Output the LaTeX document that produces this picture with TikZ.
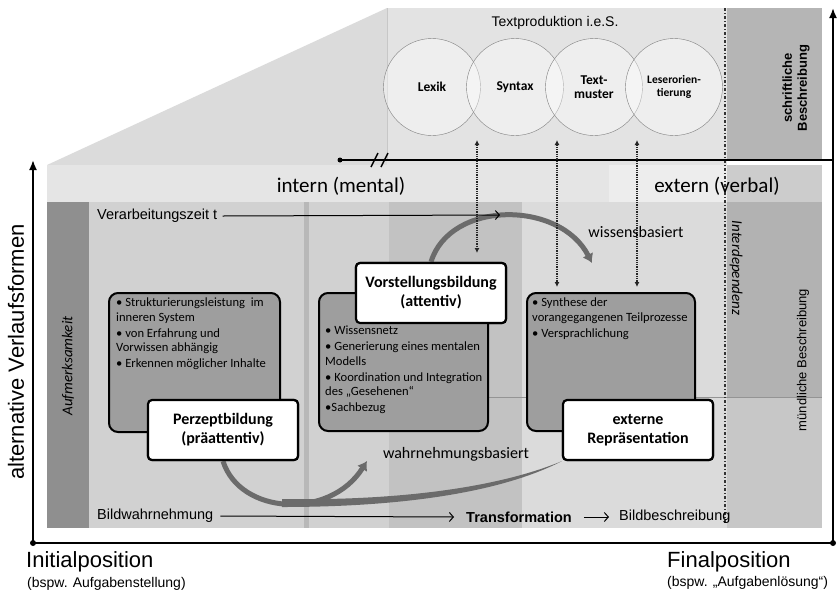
\documentclass[tikz,border=0pt]{standalone}
\usepackage{fontspec}
\setmainfont{Liberation Sans}
\newfontfamily\calib{Carlito}
\usetikzlibrary{arrows.meta,positioning}

\begin{document}
\begin{tikzpicture}[
        % Define styles
        x=1pt, y=-1pt,
        axis/.style={line width=1.8pt},
        dot/.style={circle, fill=black, inner sep=0pt, minimum size=6pt},
        topic/.style={circle, draw=black!50, fill=white, fill opacity=0.4, text opacity=1,
            minimum size=97pt, inner sep=0pt, align=center, font=\calib\bfseries\fontsize{13.5}{14.5}\selectfont},
        darkbox/.style={draw, line width=2pt, rounded corners=9pt, fill=black!38, inner sep=0pt},
        labelbox/.style={draw, line width=2.2pt, rounded corners=4pt, fill=white, inner sep=0pt,
            align=center, minimum width=150pt, minimum height=60pt, font=\calib\bfseries\fontsize{16}{19}\selectfont},
        bullets/.style={anchor=north west, inner sep=0pt, align=left, font=\calib\fontsize{12.6}{14.5}\selectfont},
        flowarc/.style={black!58, line width=5pt, -{Latex[length=9pt,width=12pt]}},
        linkarrow/.style={black!85, densely dotted, line width=1.3pt, {Latex[length=5pt,width=5pt]}-{Latex[length=5pt,width=5pt]}},
        timeline/.style={line width=1pt, -{Straight Barb[length=4pt,width=9pt]}},
        heading/.style={font=\calib\fontsize{21}{24}\selectfont},
        process/.style={font=\calib\fontsize{16}{19}\selectfont},
        axislabel/.style={font=\fontsize{14.5}{17}\selectfont}
    ]
        \useasboundingbox (0,0) rectangle (840,595);

        % --- Background ---
        \fill[black!14] (47,165) -- (387,8) -- (387,165) -- cycle;
        \fill[black!11] (387,8) rectangle (727,165);
        \fill[black!29] (727,8) rectangle (822,160);
        \draw[black!22, line width=0.8pt] (387,8) -- (387,160);

        % header band
        \fill[black!10] (47,165) rectangle (822,202);
        \fill[black!7] (609,165) rectangle (727,202);
        \fill[black!20] (727,165) rectangle (822,202);

        % main area
        \fill[black!44] (47,202) rectangle (89,528);
        \fill[black!18] (89,202) rectangle (727,528);
        \fill[black!28] (304,202) rectangle (309,528);
        \fill[black!24] (389,202) rectangle (522,528);
        \fill[black!14] (522,202) rectangle (727,528);
        \fill[black!30] (727,202) rectangle (822,397);
        \fill[black!22] (727,397) rectangle (822,528);
        \draw[black!42, line width=0.8pt] (486,397) -- (822,397);

        % --- Coordinates ---
        \coordinate (origin) at (33,543);
        \coordinate (xend) at (833,543);
        \coordinate (yend) at (33,160);
        \coordinate (zend) at (833,8);
        \coordinate (tstart) at (340,160);
        \coordinate (tend) at (833,160);

        % dotted links
        \coordinate (l1top) at (477,140);
        \coordinate (l1bot) at (477,253);
        \coordinate (l2top) at (557,140);
        \coordinate (l2bot) at (557,287);
        \coordinate (l3top) at (637,140);
        \coordinate (l3bot) at (637,287);

        % arc ends
        \coordinate (wissenend) at (592,263);
        \coordinate (wahrend) at (367,461);
        \coordinate (zeitend) at (500,215);

        % --- Interdependenz line ---
        \draw[black!80, line width=1.1pt, dash pattern=on 3pt off 2pt on 1pt off 2pt] (725,8) -- (725,523);

        % --- Axes ---
        \draw[axis, -{Latex[length=10pt,width=8pt]}] (origin) -- (yend);
        \draw[axis, -{Latex[length=10pt,width=8pt]}] (xend) -- (zend);
        \draw[axis] (origin) -- (xend);
        \draw[axis] (tstart) -- (tend);
        \draw[axis, line width=1.4pt] (371,167) -- (378,153);
        \draw[axis, line width=1.4pt] (381,167) -- (388,153);
        \node[dot] (odot) at (origin) {};
        \node[dot] (fdot) at (xend) {};
        \node[dot, minimum size=5pt] (tdot) at (tstart) {};

        % --- Textproduktion ---
        \node[font=\fontsize{14}{16}\selectfont] (tpes) at (555,23) {Textproduktion i.e.S.};
        \node[topic] (lexik) at (432,87) {Lexik};
        \node[topic] (syntax) at (515,87) {Syntax};
        \node[topic] (muster) at (594,87) {Text-\\muster};
        \node[topic, font=\calib\bfseries\fontsize{11.5}{13}\selectfont] (leser) at (674,87) {Leserorien-\\tierung};
        \node[rotate=90, align=center, font=\bfseries\fontsize{13}{15}\selectfont] (schrift) at (796,88) {schriftliche\\Beschreibung};

        % --- Arcs ---
        \node[labelbox] (vorstellung) at (431,293) {Vorstellungsbildung\\(attentiv)};
        \node[labelbox] (perzept) at (223,430) {Perzeptbildung\\(präattentiv)};
        \node[labelbox] (extrep) at (638,430) {externe\\Repräsentation};

        \draw[flowarc] (vorstellung.north) .. controls (450,200) and (560,200) .. (wissenend);
        \fill[black!58] (282,499) .. controls (400,501) and (500,487) .. (extrep.south west)
            .. controls (500,493) and (400,507) .. (282,507) -- cycle;
        \draw[flowarc] (perzept.south) .. controls (240,515) and (330,520) .. (wahrend);

        % --- Process boxes ---
        \node[darkbox, minimum width=171pt, minimum height=139pt] (struktbox) at (194.5,362.5) {};
        \node[darkbox, minimum width=169pt, minimum height=138pt] (wissenbox) at (403.5,362) {};
        \node[darkbox, minimum width=168pt, minimum height=138pt] (synthbox) at (611,362) {};

        \node[bullets] (strukttext) at (116,298) {%
            • Strukturierungsleistung\ \ im\\
            inneren System\\[1.5pt]
            • von Erfahrung und\\
            Vorwissen abhängig\\[1.5pt]
            • Erkennen möglicher Inhalte};
        \node[bullets] (wissentext) at (325,326) {%
            • Wissensnetz\\[1.5pt]
            • Generierung eines mentalen\\
            Modells\\[1.5pt]
            • Koordination und Integration\\
            des „Gesehenen“\\[1.5pt]
            •Sachbezug};
        \node[bullets] (synthtext) at (532,298) {%
            • Synthese der\\
            vorangegangenen Teilprozesse\\[1.5pt]
            • Versprachlichung};

        % label boxes on top
        \node[labelbox] at (vorstellung) {Vorstellungsbildung\\(attentiv)};
        \node[labelbox] at (perzept) {Perzeptbildung\\(präattentiv)};
        \node[labelbox] at (extrep) {externe\\Repräsentation};

        % --- Links ---
        \draw[linkarrow] (l1top) -- (l1bot);
        \draw[linkarrow] (l2top) -- (l2bot);
        \draw[linkarrow] (l3top) -- (l3bot);

        % --- Labels ---
        \node[heading] (intern) at (341,186) {intern (mental)};
        \node[heading] (extern) at (717,186) {extern (verbal)};
        \node[axislabel, anchor=west, inner sep=0pt] (zeit) at (97,216) {Verarbeitungszeit t};
        \draw[timeline] (zeit.east) ++(5,0) -- (zeitend);
        \node[process] (wissens) at (636,232) {wissensbasiert};
        \node[process] (wahrn) at (456,454) {wahrnehmungsbasiert};

        \node[axislabel, anchor=west, inner sep=0pt] (bildw) at (97,516) {Bildwahrnehmung};
        \node[axislabel, font=\bfseries\fontsize{14.5}{17}\selectfont, inner sep=0pt] (trans) at (519,517) {Transformation};
        \node[axislabel, anchor=west, inner sep=0pt] (bildb) at (619,517) {Bildbeschreibung};
        \draw[timeline] (bildw.east) ++(7,0) -- ([xshift=-12pt]trans.west);
        \draw[timeline] ([xshift=12pt]trans.east) -- ([xshift=-10pt]bildb.west);

        \node[rotate=90, font=\calib\itshape\fontsize{15}{17}\selectfont] (aufm) at (68,366) {Aufmerksamkeit};
        \node[rotate=-90, font=\calib\itshape\fontsize{15}{17}\selectfont] (interd) at (736,268) {Interdependenz};
        \node[rotate=90, font=\fontsize{13}{15}\selectfont] (muendl) at (803,360) {mündliche Beschreibung};

        \node[rotate=90, font=\fontsize{22}{26}\selectfont] (verlauf) at (16,352) {alternative Verlaufsformen};
        \node[anchor=west, inner sep=0pt, font=\fontsize{22}{26}\selectfont] (initial) at (26,562) {Initialposition};
        \node[anchor=west, inner sep=0pt, font=\fontsize{14}{16}\selectfont] (initsub) at (27,584) {(bspw. Aufgabenstellung)};
        \node[anchor=west, inner sep=0pt, font=\fontsize{22}{26}\selectfont] (final) at (667,562) {Finalposition};
        \node[anchor=west, inner sep=0pt, font=\fontsize{14}{16}\selectfont] (finalsub) at (667,583) {(bspw. „Aufgabenlösung“)};

    \end{tikzpicture}
\end{document}
